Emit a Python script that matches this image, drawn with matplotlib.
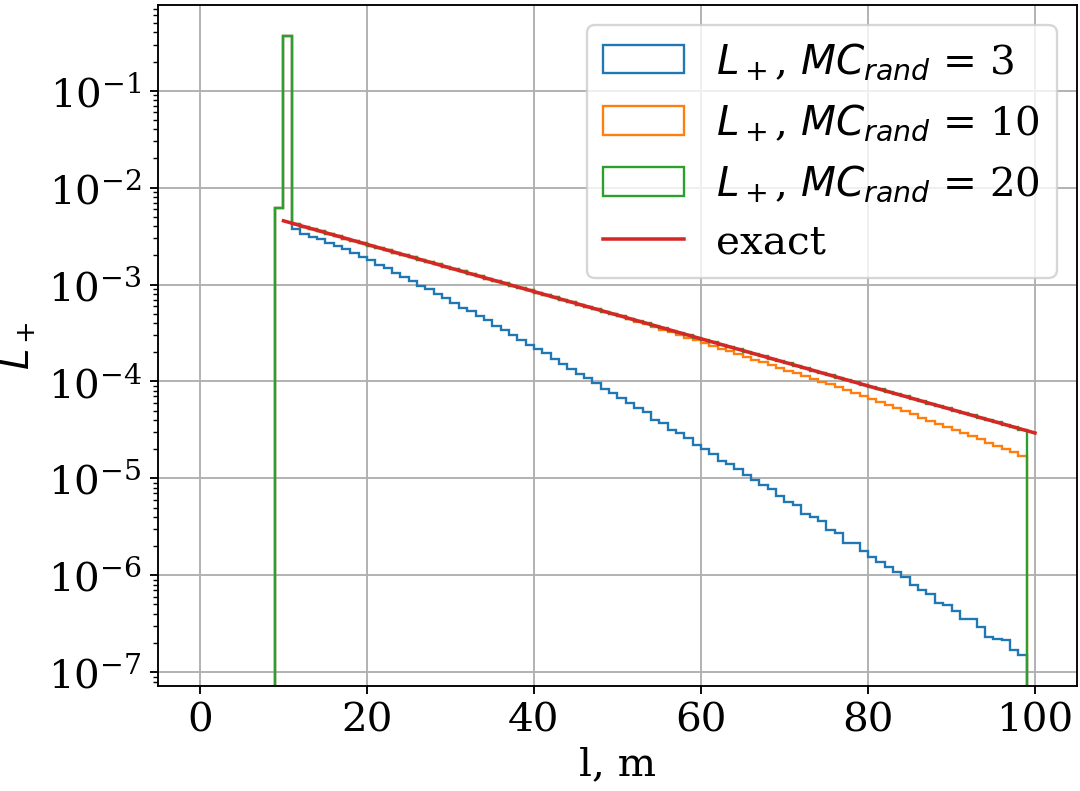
"""Step histograms of L+ for several MC_rand values against the exact curve."""
import matplotlib

matplotlib.use("Agg")
import matplotlib.pyplot as plt
import numpy as np

# Histogram bin edges (l, m) -- unit bins from 0 to 99
bin_edges = np.arange(0, 100)

# Bins 0..8 are empty; bins 9 and 10 are shared by all runs
empty_bins = [0.0] * 9
head_bins = [6.1e-3, 3.7e-1]

# log10 of bin contents for bins 11..98
blue_log = [
    -2.431, -2.479, -2.506, -2.534, -2.568, -2.602, -2.637, -2.670, -2.719, -2.746,
    -2.797, -2.832, -2.876, -2.924, -2.958, -3.013, -3.047, -3.094, -3.140, -3.191,
    -3.242, -3.276, -3.320, -3.361, -3.423, -3.471, -3.523, -3.567, -3.625, -3.669,
    -3.710, -3.766, -3.817, -3.869, -3.926, -3.967, -4.019, -4.074, -4.121, -4.166,
    -4.224, -4.269, -4.320, -4.395, -4.430, -4.501, -4.532, -4.587, -4.655, -4.696,
    -4.747, -4.816, -4.850, -4.901, -4.963, -5.021, -5.073, -5.114, -5.183, -5.244,
    -5.278, -5.364, -5.398, -5.443, -5.535, -5.559, -5.665, -5.665, -5.751, -5.809,
    -5.860, -5.912, -5.963, -6.014, -6.100, -6.151, -6.195, -6.288, -6.305, -6.367,
    -6.449, -6.449, -6.538, -6.640, -6.654, -6.671, -6.767, -6.821,
]

orange_log = [
    -2.379, -2.403, -2.427, -2.452, -2.476, -2.500, -2.525, -2.549, -2.573, -2.598,
    -2.622, -2.646, -2.671, -2.695, -2.719, -2.744, -2.768, -2.792, -2.817, -2.841,
    -2.865, -2.890, -2.914, -2.938, -2.963, -2.987, -3.011, -3.036, -3.060, -3.084,
    -3.109, -3.133, -3.157, -3.182, -3.206, -3.230, -3.255, -3.279, -3.303, -3.328,
    -3.355, -3.382, -3.410, -3.437, -3.464, -3.492, -3.519, -3.547, -3.576, -3.604,
    -3.632, -3.661, -3.689, -3.717, -3.746, -3.774, -3.802, -3.831, -3.859, -3.887,
    -3.916, -3.944, -3.972, -4.001, -4.029, -4.058, -4.088, -4.117, -4.146, -4.178,
    -4.210, -4.242, -4.275, -4.307, -4.339, -4.372, -4.404, -4.436, -4.469, -4.501,
    -4.533, -4.566, -4.598, -4.630, -4.663, -4.695, -4.728, -4.766,
]

green_log = [
    -2.379, -2.403, -2.427, -2.452, -2.476, -2.500, -2.525, -2.549, -2.573, -2.598,
    -2.622, -2.646, -2.671, -2.695, -2.719, -2.744, -2.768, -2.792, -2.817, -2.841,
    -2.865, -2.890, -2.914, -2.938, -2.963, -2.987, -3.011, -3.036, -3.060, -3.084,
    -3.109, -3.133, -3.157, -3.182, -3.206, -3.230, -3.255, -3.279, -3.303, -3.328,
    -3.352, -3.376, -3.401, -3.425, -3.449, -3.474, -3.498, -3.522, -3.547, -3.571,
    -3.595, -3.620, -3.644, -3.668, -3.693, -3.717, -3.741, -3.766, -3.790, -3.814,
    -3.839, -3.863, -3.887, -3.912, -3.936, -3.960, -3.985, -4.009, -4.033, -4.058,
    -4.082, -4.106, -4.131, -4.155, -4.179, -4.204, -4.228, -4.252, -4.277, -4.301,
    -4.325, -4.350, -4.374, -4.398, -4.423, -4.447, -4.471, -4.496,
]

mc_rand = [3, 10, 20]

# Exact solution
exact_l = [10, 20, 30, 40, 50, 60, 70, 80, 90, 100]
exact_L = [4.55e-3, 2.60e-3, 1.48e-3, 8.47e-4, 4.84e-4, 2.76e-4, 1.58e-4, 9.0e-5, 5.14e-5, 2.94e-5]

BIG = 17.28  # 'xx-large'


def full_weights(log_values):
    return np.array(empty_bins + head_bins + list(10 ** np.array(log_values)))


def main() -> None:
    plt.rcParams["font.family"] = "serif"
    plt.rcParams["font.serif"] = ["DejaVu Serif"]

    fig = plt.figure(figsize=(6.4, 791 / 168.75), dpi=168.75)
    ax = fig.add_axes([0.1465, 0.133, 0.8505, 0.861])

    centers = bin_edges[:-1] + 0.5
    for log_values, mc in zip([blue_log, orange_log, green_log], mc_rand):
        ax.hist(
            centers,
            bins=bin_edges,
            weights=full_weights(log_values),
            histtype="step",
            log=True,
            label=rf"$L_+$, $MC_{{rand}}$ = {mc}",
        )

    ax.plot(exact_l, exact_L, color="tab:red", label="exact")

    ax.set_xlabel("l, m", fontsize=BIG, labelpad=3)
    ax.set_ylabel(r"$L_+$", fontsize=16.5)
    ax.tick_params(labelsize=BIG)
    ax.grid(True)
    ax.legend(fontsize=BIG, loc="upper right")

    fig.savefig("out.png", dpi=168.75)
    plt.close(fig)


if __name__ == "__main__":
    main()
